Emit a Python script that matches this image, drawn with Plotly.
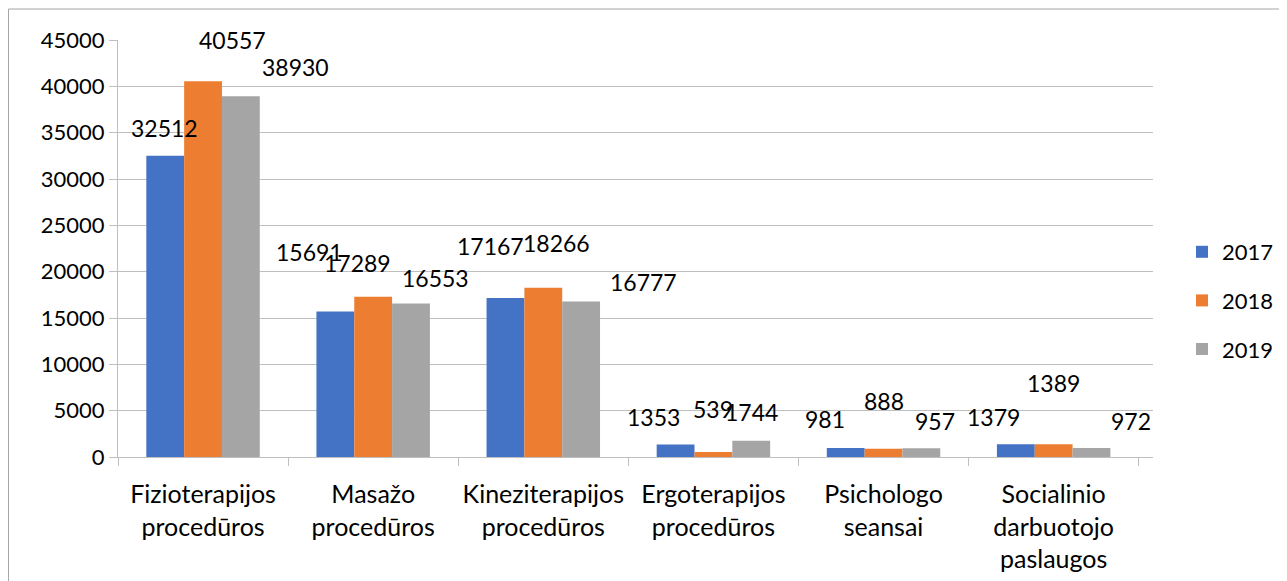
import plotly.graph_objects as go

categories = ["Fizioterapijos<br>procedūros", "Masažo<br>procedūros", "Kineziterapijos<br>procedūros",
              "Ergoterapijos<br>procedūros", "Psichologo<br>seansai", "Socialinio<br>darbuotojo<br>paslaugos"]
years = ["2017", "2018", "2019"]
v2017 = [32512, 15691, 17167, 1353, 981, 1379]
v2018 = [40557, 17289, 18266, 539, 888, 1389]
v2019 = [38930, 16553, 16777, 1744, 957, 972]
colors = ["#4472C4", "#ED7D31", "#A5A5A5"]
yticks = [0, 5000, 10000, 15000, 20000, 25000, 30000, 35000, 40000, 45000]

# label offsets (styling, pixels): (extra x shift, y shift above bar top)
label_offsets = [
    [(0, 28), (-25, 60), (-14, 52), (-22, 27), (-20, 29), (-22, 27)],
    [(29, 41), (-16, 34), (13, 45), (0, 43), (0, 48), (0, 61)],
    [(54, 29), (24, 26), (62, 20), (0, 29), (13, 27), (39, 27)],
]

OFF = 8  # browser body margin
W, H = 1287 - OFF, 581 - OFF
ML, MT = 118 - OFF, 40 - OFF
MR = W - (1153 - OFF)
MB = H - (457 - OFF)
PW = W - ML - MR
PH = H - MT - MB
BARGAP = 0.333
FONT = "Lato"

fig = go.Figure()
series = [v2017, v2018, v2019]
for i, (yr, vals) in enumerate(zip(years, series)):
    fig.add_trace(go.Bar(x=categories, y=vals, name=yr, marker_color=colors[i],
                         marker_line_width=0, legendgroup=yr))

slot = PW / len(categories)
bw = slot * (1 - BARGAP) / 3
for i, vals in enumerate(series):
    for j, v in enumerate(vals):
        dx, dy = label_offsets[i][j]
        fig.add_annotation(x=categories[j], y=v, text=str(v), showarrow=False,
                           xshift=(i - 1) * bw + dx, yshift=dy,
                           xanchor="center", yanchor="middle",
                           font=dict(family=FONT, size=23, color="#000000"))

# outer chart border (top and left)
bx = (0.5 - ML) / PW
by = (H - MB - 1) / PH
fig.add_shape(type="line", xref="paper", yref="paper", x0=bx, x1=(W - ML) / PW + 0.01, y0=by, y1=by,
              line=dict(color="#a6a6a6", width=1))
fig.add_shape(type="line", xref="paper", yref="paper", x0=bx, x1=bx, y0=by, y1=-(MB + 5) / PH,
              line=dict(color="#a6a6a6", width=1))

fig.update_layout(
    width=W, height=H,
    margin=dict(l=ML, r=MR, t=MT, b=MB, autoexpand=False),
    paper_bgcolor="white", plot_bgcolor="white",
    barmode="group", bargap=BARGAP, bargroupgap=0,
    font=dict(family=FONT, size=22, color="#000000"),
    legend=dict(x=(1182 - OFF - ML) / PW, y=(H - MB - (231 - OFF)) / PH, xanchor="left", yanchor="top",
                font=dict(family=FONT, size=22), tracegroupgap=17, traceorder="grouped",
                itemwidth=30),
    showlegend=True,
)
fig.update_xaxes(type="category", showgrid=False, showline=True, linecolor="#bfbfbf", linewidth=1,
                 ticks="outside", tickson="boundaries", ticklen=8, tickcolor="#bfbfbf",
                 ticklabelstandoff=15, tickangle=0, automargin=False,
                 tickfont=dict(family=FONT, size=25, color="#000000"))
fig.update_yaxes(range=[0, 45000], tickvals=yticks, ticktext=[str(t) for t in yticks],
                 showgrid=True, gridcolor="#bfbfbf", gridwidth=1,
                 showline=True, linecolor="#bfbfbf", linewidth=1,
                 ticks="outside", ticklen=8, tickcolor="#bfbfbf",
                 zeroline=False, automargin=False,
                 tickfont=dict(family=FONT, size=22, color="#000000"))

fig.write_html("out.html")
